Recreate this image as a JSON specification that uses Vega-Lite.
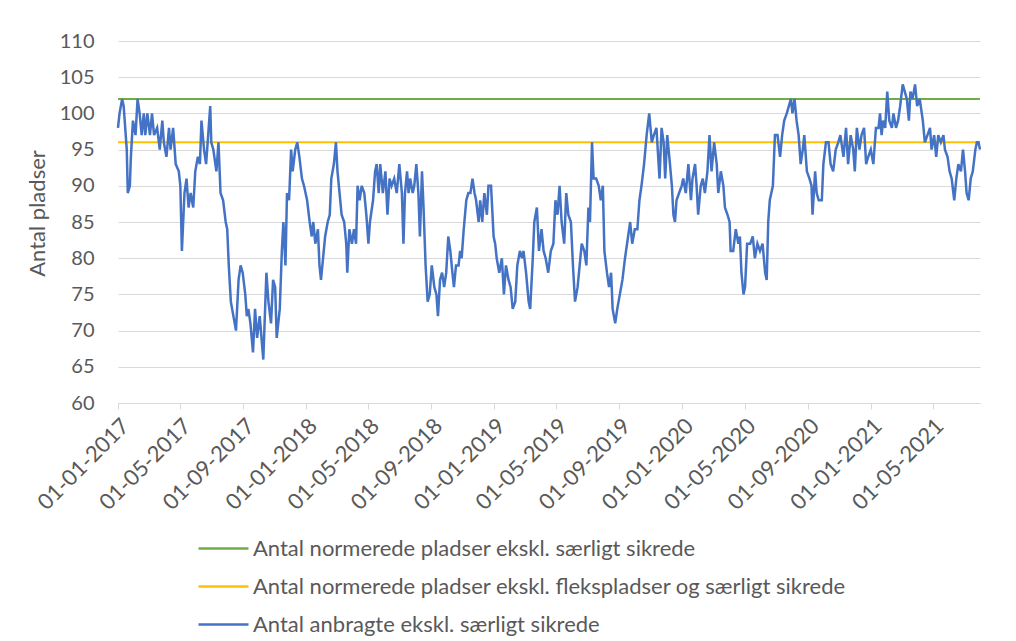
{
 "$schema": "https://vega.github.io/schema/vega-lite/v6.json",
 "width": 862,
 "height": 362,
 "autosize": "none",
 "padding": {"left": 118, "top": 41, "right": 36, "bottom": 238},
 "background": "white",
 "config": {"font": "Lato", "view": {"stroke": null}},
 "datasets": {
  "normering": [
   {"dato": "2017-01-01", "serie": "Antal normerede pladser ekskl. særligt sikrede", "antal": 102},
   {"dato": "2021-08-01", "serie": "Antal normerede pladser ekskl. særligt sikrede", "antal": 102},
   {"dato": "2017-01-01", "serie": "Antal normerede pladser ekskl. flekspladser og særligt sikrede", "antal": 96},
   {"dato": "2021-08-01", "serie": "Antal normerede pladser ekskl. flekspladser og særligt sikrede", "antal": 96}
  ],
  "anbragte": [
   {"dato":"2017-01-01","antal":98},{"dato":"2017-01-04","antal":100},{"dato":"2017-01-09","antal":102},{"dato":"2017-01-12","antal":101},{"dato":"2017-01-15","antal":98},{"dato":"2017-01-18","antal":95},{"dato":"2017-01-20","antal":89},{"dato":"2017-01-24","antal":90},{"dato":"2017-01-26","antal":94},{"dato":"2017-01-30","antal":99},
   {"dato":"2017-02-04","antal":97},{"dato":"2017-02-08","antal":102},{"dato":"2017-02-12","antal":100},{"dato":"2017-02-16","antal":97},{"dato":"2017-02-20","antal":100},{"dato":"2017-02-23","antal":97},{"dato":"2017-02-27","antal":100},
   {"dato":"2017-03-04","antal":97},{"dato":"2017-03-08","antal":100},{"dato":"2017-03-12","antal":97},{"dato":"2017-03-18","antal":98},{"dato":"2017-03-23","antal":95},{"dato":"2017-03-28","antal":99},{"dato":"2017-03-31","antal":96},
   {"dato":"2017-04-05","antal":94},{"dato":"2017-04-10","antal":98},{"dato":"2017-04-13","antal":95},{"dato":"2017-04-18","antal":98},{"dato":"2017-04-23","antal":93},{"dato":"2017-04-29","antal":92},
   {"dato":"2017-05-02","antal":90},{"dato":"2017-05-05","antal":81},{"dato":"2017-05-10","antal":89},{"dato":"2017-05-14","antal":91},{"dato":"2017-05-18","antal":87},{"dato":"2017-05-22","antal":89},{"dato":"2017-05-27","antal":87},{"dato":"2017-05-31","antal":92},
   {"dato":"2017-06-05","antal":94},{"dato":"2017-06-09","antal":93},{"dato":"2017-06-12","antal":99},{"dato":"2017-06-17","antal":95},{"dato":"2017-06-21","antal":93},{"dato":"2017-06-25","antal":97},{"dato":"2017-06-29","antal":101},
   {"dato":"2017-07-01","antal":96},{"dato":"2017-07-05","antal":95},{"dato":"2017-07-11","antal":92},{"dato":"2017-07-15","antal":96},{"dato":"2017-07-19","antal":89},{"dato":"2017-07-24","antal":88},{"dato":"2017-07-29","antal":85},
   {"dato":"2017-08-01","antal":84},{"dato":"2017-08-04","antal":79},{"dato":"2017-08-08","antal":74},{"dato":"2017-08-13","antal":72},{"dato":"2017-08-18","antal":70},{"dato":"2017-08-23","antal":77},{"dato":"2017-08-27","antal":79},{"dato":"2017-08-31","antal":78},
   {"dato":"2017-09-05","antal":75},{"dato":"2017-09-08","antal":72},{"dato":"2017-09-11","antal":73},{"dato":"2017-09-15","antal":71},{"dato":"2017-09-20","antal":67},{"dato":"2017-09-24","antal":73},{"dato":"2017-09-28","antal":69},
   {"dato":"2017-10-03","antal":72},{"dato":"2017-10-10","antal":66},{"dato":"2017-10-16","antal":78},{"dato":"2017-10-20","antal":74},{"dato":"2017-10-25","antal":71},{"dato":"2017-10-29","antal":77},
   {"dato":"2017-11-02","antal":76},{"dato":"2017-11-05","antal":69},{"dato":"2017-11-11","antal":73},{"dato":"2017-11-15","antal":81},{"dato":"2017-11-18","antal":85},{"dato":"2017-11-22","antal":79},{"dato":"2017-11-25","antal":89},{"dato":"2017-11-29","antal":88},
   {"dato":"2017-12-03","antal":95},{"dato":"2017-12-06","antal":92},{"dato":"2017-12-11","antal":95},{"dato":"2017-12-15","antal":96},{"dato":"2017-12-19","antal":94},{"dato":"2017-12-24","antal":91},{"dato":"2017-12-28","antal":90},
   {"dato":"2018-01-03","antal":88},{"dato":"2018-01-08","antal":85},{"dato":"2018-01-12","antal":83},{"dato":"2018-01-15","antal":85},{"dato":"2018-01-19","antal":82},{"dato":"2018-01-24","antal":84},{"dato":"2018-01-27","antal":79},{"dato":"2018-01-30","antal":77},
   {"dato":"2018-02-03","antal":80},{"dato":"2018-02-07","antal":83},{"dato":"2018-02-12","antal":85},{"dato":"2018-02-16","antal":86},{"dato":"2018-02-19","antal":91},{"dato":"2018-02-24","antal":93},{"dato":"2018-02-28","antal":96},
   {"dato":"2018-03-03","antal":92},{"dato":"2018-03-07","antal":89},{"dato":"2018-03-11","antal":86},{"dato":"2018-03-16","antal":85},{"dato":"2018-03-20","antal":82},{"dato":"2018-03-22","antal":78},{"dato":"2018-03-26","antal":84},{"dato":"2018-03-31","antal":82},
   {"dato":"2018-04-04","antal":84},{"dato":"2018-04-08","antal":82},{"dato":"2018-04-11","antal":90},{"dato":"2018-04-15","antal":88},{"dato":"2018-04-19","antal":90},{"dato":"2018-04-24","antal":89},{"dato":"2018-04-28","antal":86},
   {"dato":"2018-05-02","antal":82},{"dato":"2018-05-05","antal":85},{"dato":"2018-05-11","antal":88},{"dato":"2018-05-15","antal":92},{"dato":"2018-05-18","antal":93},{"dato":"2018-05-22","antal":89},{"dato":"2018-05-25","antal":93},{"dato":"2018-05-30","antal":89},
   {"dato":"2018-06-04","antal":92},{"dato":"2018-06-08","antal":86},{"dato":"2018-06-12","antal":91},{"dato":"2018-06-16","antal":90},{"dato":"2018-06-21","antal":91},{"dato":"2018-06-26","antal":89},
   {"dato":"2018-07-01","antal":93},{"dato":"2018-07-06","antal":89},{"dato":"2018-07-09","antal":82},{"dato":"2018-07-12","antal":89},{"dato":"2018-07-16","antal":92},{"dato":"2018-07-19","antal":89},{"dato":"2018-07-22","antal":91},{"dato":"2018-07-27","antal":89},{"dato":"2018-07-30","antal":90},
   {"dato":"2018-08-03","antal":93},{"dato":"2018-08-07","antal":89},{"dato":"2018-08-10","antal":83},{"dato":"2018-08-14","antal":92},{"dato":"2018-08-17","antal":87},{"dato":"2018-08-21","antal":79},{"dato":"2018-08-25","antal":74},{"dato":"2018-08-29","antal":75},
   {"dato":"2018-09-02","antal":79},{"dato":"2018-09-07","antal":76},{"dato":"2018-09-11","antal":75},{"dato":"2018-09-14","antal":72},{"dato":"2018-09-18","antal":77},{"dato":"2018-09-22","antal":78},{"dato":"2018-09-26","antal":76},{"dato":"2018-09-30","antal":78},
   {"dato":"2018-10-04","antal":83},{"dato":"2018-10-08","antal":81},{"dato":"2018-10-12","antal":78},{"dato":"2018-10-15","antal":76},{"dato":"2018-10-19","antal":79},{"dato":"2018-10-24","antal":79},{"dato":"2018-10-27","antal":81},{"dato":"2018-10-30","antal":80},
   {"dato":"2018-11-03","antal":84},{"dato":"2018-11-08","antal":88},{"dato":"2018-11-12","antal":89},{"dato":"2018-11-16","antal":89},{"dato":"2018-11-20","antal":91},{"dato":"2018-11-24","antal":89},{"dato":"2018-11-27","antal":88},
   {"dato":"2018-12-02","antal":85},{"dato":"2018-12-05","antal":88},{"dato":"2018-12-09","antal":85},{"dato":"2018-12-13","antal":89},{"dato":"2018-12-18","antal":86},{"dato":"2018-12-21","antal":90},{"dato":"2018-12-26","antal":90},{"dato":"2018-12-31","antal":83},
   {"dato":"2019-01-03","antal":82},{"dato":"2019-01-06","antal":80},{"dato":"2019-01-11","antal":78},{"dato":"2019-01-16","antal":80},{"dato":"2019-01-20","antal":75},{"dato":"2019-01-24","antal":79},{"dato":"2019-01-29","antal":77},
   {"dato":"2019-02-02","antal":76},{"dato":"2019-02-06","antal":73},{"dato":"2019-02-11","antal":74},{"dato":"2019-02-15","antal":79},{"dato":"2019-02-20","antal":81},{"dato":"2019-02-24","antal":80},{"dato":"2019-02-27","antal":81},
   {"dato":"2019-03-04","antal":78},{"dato":"2019-03-09","antal":74},{"dato":"2019-03-12","antal":73},{"dato":"2019-03-17","antal":80},{"dato":"2019-03-20","antal":85},{"dato":"2019-03-25","antal":87},{"dato":"2019-03-29","antal":81},
   {"dato":"2019-04-03","antal":84},{"dato":"2019-04-07","antal":81},{"dato":"2019-04-11","antal":80},{"dato":"2019-04-16","antal":78},{"dato":"2019-04-21","antal":81},{"dato":"2019-04-26","antal":82},{"dato":"2019-04-30","antal":88},
   {"dato":"2019-05-04","antal":86},{"dato":"2019-05-08","antal":90},{"dato":"2019-05-12","antal":85},{"dato":"2019-05-17","antal":82},{"dato":"2019-05-21","antal":89},{"dato":"2019-05-25","antal":86},{"dato":"2019-05-30","antal":85},
   {"dato":"2019-06-03","antal":79},{"dato":"2019-06-07","antal":74},{"dato":"2019-06-12","antal":76},{"dato":"2019-06-16","antal":79},{"dato":"2019-06-20","antal":82},{"dato":"2019-06-25","antal":81},{"dato":"2019-06-29","antal":79},
   {"dato":"2019-07-03","antal":87},{"dato":"2019-07-06","antal":85},{"dato":"2019-07-10","antal":96},{"dato":"2019-07-13","antal":91},{"dato":"2019-07-18","antal":91},{"dato":"2019-07-23","antal":90},{"dato":"2019-07-27","antal":88},{"dato":"2019-07-31","antal":90},
   {"dato":"2019-08-03","antal":81},{"dato":"2019-08-08","antal":78},{"dato":"2019-08-12","antal":76},{"dato":"2019-08-16","antal":78},{"dato":"2019-08-19","antal":73},{"dato":"2019-08-24","antal":71},{"dato":"2019-08-28","antal":73},
   {"dato":"2019-09-02","antal":75},{"dato":"2019-09-07","antal":77},{"dato":"2019-09-12","antal":80},{"dato":"2019-09-16","antal":82},{"dato":"2019-09-22","antal":85},{"dato":"2019-09-26","antal":82},
   {"dato":"2019-10-01","antal":84},{"dato":"2019-10-06","antal":84},{"dato":"2019-10-10","antal":88},{"dato":"2019-10-14","antal":90},{"dato":"2019-10-19","antal":93},{"dato":"2019-10-24","antal":97},{"dato":"2019-10-29","antal":100},
   {"dato":"2019-11-03","antal":96},{"dato":"2019-11-07","antal":97},{"dato":"2019-11-12","antal":98},{"dato":"2019-11-18","antal":91},{"dato":"2019-11-22","antal":98},{"dato":"2019-11-26","antal":96},{"dato":"2019-11-29","antal":91},
   {"dato":"2019-12-03","antal":97},{"dato":"2019-12-07","antal":94},{"dato":"2019-12-12","antal":90},{"dato":"2019-12-15","antal":86},{"dato":"2019-12-18","antal":85},{"dato":"2019-12-21","antal":88},{"dato":"2019-12-26","antal":89},{"dato":"2019-12-31","antal":90},
   {"dato":"2020-01-03","antal":91},{"dato":"2020-01-08","antal":89},{"dato":"2020-01-13","antal":93},{"dato":"2020-01-18","antal":88},{"dato":"2020-01-21","antal":91},{"dato":"2020-01-26","antal":93},{"dato":"2020-01-29","antal":90},
   {"dato":"2020-02-01","antal":86},{"dato":"2020-02-06","antal":90},{"dato":"2020-02-10","antal":91},{"dato":"2020-02-14","antal":89},{"dato":"2020-02-19","antal":92},{"dato":"2020-02-23","antal":97},{"dato":"2020-02-27","antal":92},
   {"dato":"2020-03-03","antal":96},{"dato":"2020-03-08","antal":93},{"dato":"2020-03-11","antal":89},{"dato":"2020-03-16","antal":92},{"dato":"2020-03-21","antal":90},{"dato":"2020-03-24","antal":87},{"dato":"2020-03-29","antal":86},
   {"dato":"2020-04-02","antal":85},{"dato":"2020-04-04","antal":81},{"dato":"2020-04-09","antal":81},{"dato":"2020-04-14","antal":84},{"dato":"2020-04-19","antal":82},{"dato":"2020-04-22","antal":83},{"dato":"2020-04-25","antal":78},{"dato":"2020-04-29","antal":75},
   {"dato":"2020-05-02","antal":76},{"dato":"2020-05-06","antal":82},{"dato":"2020-05-12","antal":82},{"dato":"2020-05-17","antal":83},{"dato":"2020-05-21","antal":80},{"dato":"2020-05-26","antal":82},{"dato":"2020-05-31","antal":81},
   {"dato":"2020-06-05","antal":82},{"dato":"2020-06-10","antal":78},{"dato":"2020-06-13","antal":77},{"dato":"2020-06-16","antal":85},{"dato":"2020-06-19","antal":88},{"dato":"2020-06-25","antal":90},{"dato":"2020-06-29","antal":97},
   {"dato":"2020-07-04","antal":97},{"dato":"2020-07-09","antal":94},{"dato":"2020-07-13","antal":97},{"dato":"2020-07-17","antal":99},{"dato":"2020-07-22","antal":100},{"dato":"2020-07-26","antal":101},{"dato":"2020-07-30","antal":102},
   {"dato":"2020-08-02","antal":100},{"dato":"2020-08-06","antal":102},{"dato":"2020-08-10","antal":99},{"dato":"2020-08-14","antal":97},{"dato":"2020-08-18","antal":93},{"dato":"2020-08-22","antal":95},{"dato":"2020-08-25","antal":97},{"dato":"2020-08-30","antal":92},
   {"dato":"2020-09-04","antal":91},{"dato":"2020-09-08","antal":90},{"dato":"2020-09-10","antal":86},{"dato":"2020-09-15","antal":92},{"dato":"2020-09-18","antal":89},{"dato":"2020-09-22","antal":88},{"dato":"2020-09-28","antal":88},
   {"dato":"2020-10-01","antal":93},{"dato":"2020-10-06","antal":96},{"dato":"2020-10-11","antal":96},{"dato":"2020-10-15","antal":93},{"dato":"2020-10-20","antal":92},{"dato":"2020-10-25","antal":95},{"dato":"2020-10-30","antal":96},
   {"dato":"2020-11-03","antal":97},{"dato":"2020-11-09","antal":94},{"dato":"2020-11-14","antal":98},{"dato":"2020-11-18","antal":93},{"dato":"2020-11-23","antal":97},{"dato":"2020-11-28","antal":95},
   {"dato":"2020-12-01","antal":92},{"dato":"2020-12-05","antal":98},{"dato":"2020-12-10","antal":95},{"dato":"2020-12-14","antal":97},{"dato":"2020-12-19","antal":98},{"dato":"2020-12-23","antal":93},{"dato":"2020-12-27","antal":94},
   {"dato":"2021-01-01","antal":95},{"dato":"2021-01-06","antal":93},{"dato":"2021-01-11","antal":98},{"dato":"2021-01-16","antal":98},{"dato":"2021-01-19","antal":100},{"dato":"2021-01-22","antal":97},{"dato":"2021-01-25","antal":99},{"dato":"2021-01-29","antal":98},
   {"dato":"2021-02-02","antal":103},{"dato":"2021-02-06","antal":99},{"dato":"2021-02-11","antal":98},{"dato":"2021-02-14","antal":100},{"dato":"2021-02-19","antal":98},{"dato":"2021-02-23","antal":99},{"dato":"2021-02-27","antal":101},
   {"dato":"2021-03-04","antal":104},{"dato":"2021-03-08","antal":103},{"dato":"2021-03-12","antal":102},{"dato":"2021-03-16","antal":99},{"dato":"2021-03-19","antal":103},{"dato":"2021-03-23","antal":102},{"dato":"2021-03-28","antal":104},
   {"dato":"2021-04-01","antal":101},{"dato":"2021-04-06","antal":102},{"dato":"2021-04-12","antal":99},{"dato":"2021-04-16","antal":96},{"dato":"2021-04-21","antal":97},{"dato":"2021-04-26","antal":98},{"dato":"2021-04-29","antal":95},
   {"dato":"2021-05-04","antal":97},{"dato":"2021-05-08","antal":94},{"dato":"2021-05-12","antal":97},{"dato":"2021-05-17","antal":96},{"dato":"2021-05-22","antal":97},{"dato":"2021-05-25","antal":95},{"dato":"2021-05-30","antal":94},
   {"dato":"2021-06-03","antal":92},{"dato":"2021-06-07","antal":91},{"dato":"2021-06-12","antal":88},{"dato":"2021-06-16","antal":91},{"dato":"2021-06-20","antal":93},{"dato":"2021-06-25","antal":92},{"dato":"2021-06-29","antal":95},
   {"dato":"2021-07-03","antal":92},{"dato":"2021-07-06","antal":89},{"dato":"2021-07-10","antal":88},{"dato":"2021-07-14","antal":91},{"dato":"2021-07-18","antal":92},{"dato":"2021-07-23","antal":95},{"dato":"2021-07-26","antal":96},{"dato":"2021-07-29","antal":96},{"dato":"2021-08-01","antal":95}
  ]
 },
 "encoding": {
  "x": {
   "field": "dato", "type": "temporal",
   "scale": {"type": "utc", "domain": [{"year": 2017, "month": 1, "date": 1, "utc": true}, {"year": 2021, "month": 8, "date": 1, "utc": true}]},
   "axis": {"title": null, "format": "%d-%m-%Y", "labelAngle": -45, "tickCount": {"interval": "month", "step": 4}, "grid": false,
            "domainColor": "#d9d9d9", "domainWidth": 1, "tickColor": "#d9d9d9", "tickSize": 6, "labelFontSize": 22, "labelColor": "#595959",
            "labelPadding": 6, "labelFlush": false, "labelOverlap": false}
  },
  "y": {
   "field": "antal", "type": "quantitative",
   "scale": {"domain": [60, 110], "nice": false, "zero": false},
   "axis": {"title": "Antal pladser", "values": [60, 65, 70, 75, 80, 85, 90, 95, 100, 105, 110], "grid": true, "gridColor": "#d9d9d9", "gridWidth": 1,
            "domain": false, "ticks": false, "labelFontSize": 20, "labelColor": "#595959", "labelPadding": 24,
            "titleFontSize": 22, "titleColor": "#595959", "titleFontWeight": "normal", "titlePadding": 10, "titleY": 172}
  }
 },
 "layer": [
  {
   "data": {"name": "normering"},
   "mark": {"type": "line", "strokeWidth": 2},
   "encoding": {
    "color": {
     "field": "serie", "type": "nominal",
     "scale": {"domain": ["Antal normerede pladser ekskl. særligt sikrede", "Antal normerede pladser ekskl. flekspladser og særligt sikrede", "Antal anbragte ekskl. særligt sikrede"],
               "range": ["#70ad47", "#ffc000", "#4472c4"]},
     "legend": {"orient": "none", "legendX": 79, "legendY": 481, "direction": "vertical", "title": null,
                "symbolType": "stroke", "symbolSize": 2500, "symbolStrokeWidth": 2.5, "labelFontSize": 22, "labelColor": "#595959",
                "labelOffset": 3, "rowPadding": -9, "labelLimit": 900}
    }
   }
  },
  {
   "data": {"name": "anbragte"},
   "mark": {"type": "line", "strokeWidth": 2.5},
   "encoding": {
    "color": {"datum": "Antal anbragte ekskl. særligt sikrede", "type": "nominal"}
   }
  }
 ]
}
